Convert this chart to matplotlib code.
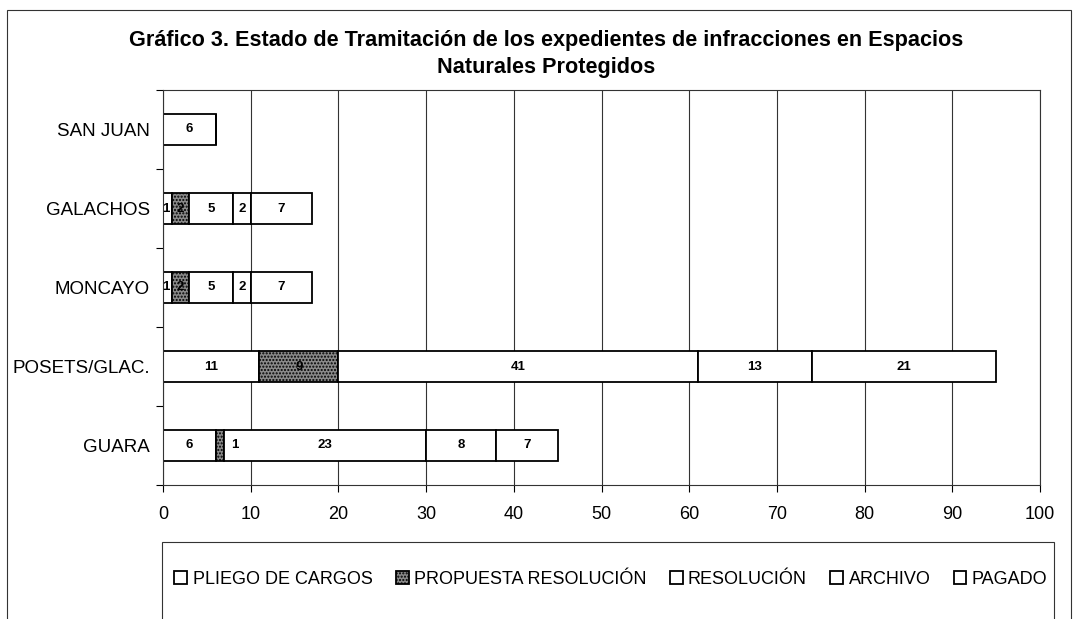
import numpy as np
import matplotlib.pyplot as plt
from matplotlib.patches import Rectangle

plt.rcParams['font.family'] = ['Liberation Sans', 'DejaVu Sans']

espacios = ["GUARA", "POSETS/GLAC.", "MONCAYO", "GALACHOS", "SAN JUAN"]
estados = ["PLIEGO DE CARGOS", "PROPUESTA RESOLUCIÓN", "RESOLUCIÓN", "ARCHIVO", "PAGADO"]

pliego = [6, 11, 1, 1, 6]
propuesta = [1, 9, 2, 2, 0]
resolucion = [23, 41, 5, 5, 0]
archivo = [8, 13, 2, 2, 0]
pagado = [7, 21, 7, 7, 0]

series = [pliego, propuesta, resolucion, archivo, pagado]

W, H = 1075, 619
fig = plt.figure(figsize=(W / 100, H / 100), dpi=100)
ax = fig.add_axes([163 / W, 1 - 485 / H, 877 / W, 395 / H])

# outer frame and legend box
fig.patches.append(Rectangle((7 / W, -0.05), 1064 / W, 1 - 10 / H + 0.05,
                             transform=fig.transFigure, fill=False, lw=0.8, ec='#333333'))
fig.patches.append(Rectangle((162 / W, -0.05), 892 / W, 1 - 542 / H + 0.05,
                             transform=fig.transFigure, fill=False, lw=0.8, ec='#333333'))

y = np.arange(len(espacios))
left = np.zeros(len(espacios))
handles = []
for i, (name, vals) in enumerate(zip(estados, series)):
    vals = np.array(vals, dtype=float)
    if i == 1:
        bars = ax.barh(y, vals, 0.39, left=left, color='#8a8a8a', edgecolor='black',
                       hatch='.....', lw=1.3, label=name)
    else:
        bars = ax.barh(y, vals, 0.39, left=left, color='white', edgecolor='black',
                       lw=1.3, label=name)
    handles.append(bars)
    for j, v in enumerate(vals):
        if v <= 0:
            continue
        xc = left[j] + v / 2
        if i == 1 and espacios[j] == "GUARA":
            xc = left[j] + v + 1.2
        elif i == 0 and v == 1:
            xc = left[j] + 0.35
        ax.text(xc, y[j], f"{int(v)}", ha='center', va='center',
                fontsize=9.5, fontweight='bold')
    left += vals

ax.set_xlim(0, 100)
ax.set_ylim(-0.5, len(espacios) - 0.5)
ax.set_xticks(np.arange(0, 101, 10))
ax.set_yticks(y)
ax.set_yticklabels(espacios, fontsize=13.5)
ax.set_yticks(np.arange(-0.5, len(espacios), 1), minor=True)
ax.tick_params(axis='y', which='major', length=0, pad=9.5)
ax.tick_params(axis='y', which='minor', length=5, width=0.8)
ax.tick_params(axis='x', length=5, width=0.8, labelsize=13, pad=10)
ax.xaxis.grid(True, color='#333333', lw=0.8)
ax.set_axisbelow(True)
for s in ax.spines.values():
    s.set_color('#333333')
    s.set_linewidth(0.8)

fig.text(546 / W, 1 - 54 / H,
         "Gráfico 3. Estado de Tramitación de los expedientes de infracciones en Espacios\nNaturales Protegidos",
         ha='center', va='center', fontsize=15.6, fontweight='bold', linespacing=1.35)

fig.legend(handles=handles, labels=estados, loc='center', ncol=5,
           bbox_to_anchor=(611 / W, 1 - 579 / H), frameon=False, fontsize=13,
           handlelength=0.7, handleheight=0.7, handletextpad=0.3, columnspacing=1.3)

fig.savefig("out.png", dpi=100, facecolor='white')
